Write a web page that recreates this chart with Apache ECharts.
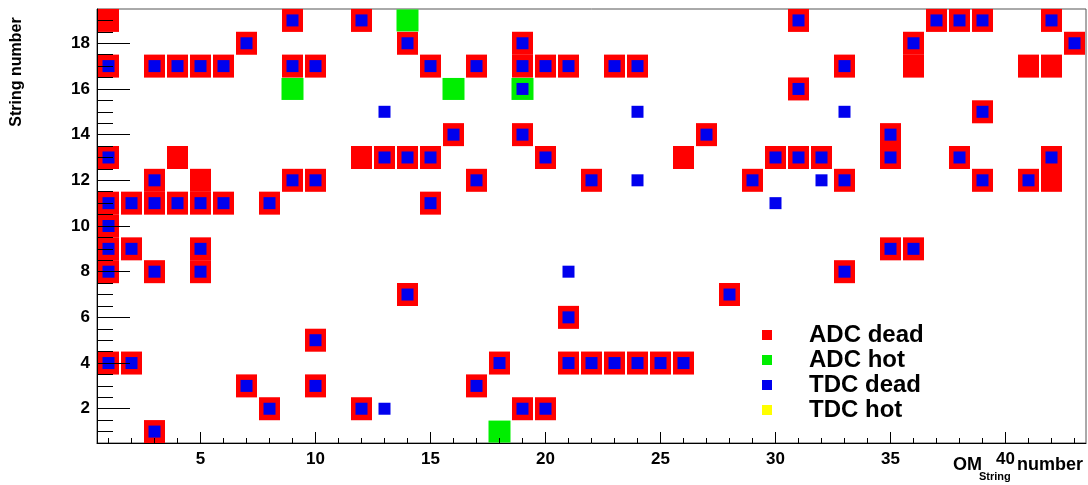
<!DOCTYPE html>
<html><head><meta charset="utf-8">
<script src="https://cdn.jsdelivr.net/npm/echarts@6/dist/echarts.min.js"></script>
<style>html,body{margin:0;padding:0;background:#fff}#c{width:1088px;height:485px}</style>
</head><body><div id="c"></div>
<script>
// ---- data: [OM number, String number] ----
const seriesNames = ['ADC dead', 'ADC hot', 'TDC dead', 'TDC hot'];
const adcDead = [
  [1,19],[9,19],[12,19],[31,19],[37,19],[38,19],[39,19],[42,19],
  [7,18],[14,18],[19,18],[36,18],[43,18],
  [1,17],[3,17],[4,17],[5,17],[6,17],[9,17],[10,17],[15,17],[17,17],[19,17],[20,17],[21,17],[23,17],[24,17],[33,17],[36,17],[41,17],[42,17],
  [31,16],
  [39,15],
  [16,14],[19,14],[27,14],[35,14],
  [1,13],[4,13],[12,13],[13,13],[14,13],[15,13],[20,13],[26,13],[30,13],[31,13],[32,13],[35,13],[38,13],[42,13],
  [3,12],[5,12],[9,12],[10,12],[17,12],[22,12],[29,12],[33,12],[39,12],[41,12],[42,12],
  [1,11],[2,11],[3,11],[4,11],[5,11],[6,11],[8,11],[15,11],
  [1,10],
  [1,9],[2,9],[5,9],[35,9],[36,9],
  [1,8],[3,8],[5,8],[33,8],
  [14,7],[28,7],
  [21,6],
  [10,5],
  [1,4],[2,4],[18,4],[21,4],[22,4],[23,4],[24,4],[25,4],[26,4],
  [7,3],[10,3],[17,3],
  [8,2],[12,2],[19,2],[20,2],
  [3,1]
];
const adcHot = [[14,19],[9,16],[16,16],[19,16],[18,1]];
const tdcDead = [
  [9,19],[12,19],[31,19],[37,19],[38,19],[39,19],[42,19],
  [7,18],[14,18],[19,18],[36,18],[43,18],
  [1,17],[3,17],[4,17],[5,17],[6,17],[9,17],[10,17],[15,17],[17,17],[19,17],[20,17],[21,17],[23,17],[24,17],[33,17],
  [19,16],[31,16],
  [13,15],[24,15],[33,15],[39,15],
  [16,14],[19,14],[27,14],[35,14],
  [1,13],[13,13],[14,13],[15,13],[20,13],[30,13],[31,13],[32,13],[35,13],[38,13],[42,13],
  [3,12],[9,12],[10,12],[17,12],[22,12],[24,12],[29,12],[32,12],[33,12],[39,12],[41,12],
  [1,11],[2,11],[3,11],[4,11],[5,11],[6,11],[8,11],[15,11],[30,11],
  [1,10],
  [1,9],[2,9],[5,9],[35,9],[36,9],
  [1,8],[3,8],[5,8],[21,8],[33,8],
  [14,7],[28,7],
  [21,6],
  [10,5],
  [1,4],[2,4],[18,4],[21,4],[22,4],[23,4],[24,4],[25,4],[26,4],
  [7,3],[10,3],[17,3],
  [8,2],[12,2],[13,2],[19,2],[20,2],
  [3,1]
];
const tdcHot = [];
const xMajorTicks = [5,10,15,20,25,30,35,40];
const xMinorTicks = [1,2,3,4,6,7,8,9,11,12,13,14,16,17,18,19,21,22,23,24,26,27,28,29,31,32,33,34,36,37,38,39,41,42,43];
const yMajorTicks = [2,4,6,8,10,12,14,16,18];
const yMinorTicks = [1,1.5,2.5,3,3.5,4.5,5,5.5,6.5,7,7.5,8.5,9,9.5,10.5,11,11.5,12.5,13,13.5,14.5,15,15.5,16.5,17,17.5,18.5,19];
const xTitle = ['OM', 'String', 'number'];
const yTitle = 'String number';

// ---- chart ----
const FONT = 'Liberation Sans, Arial, sans-serif';
const chart = echarts.init(document.getElementById('c'), null, {renderer: 'canvas'});
const xRange = {min: 0.5, max: 43.5};
const yRange = {min: 0.5, max: 19.5};
const labelStyle = {fontSize: 17, fontWeight: 'bold', color: '#000', fontFamily: FONT};
function scatter(name, data, size, color, z) {
  return {name, type: 'scatter', data, symbol: 'rect', symbolSize: size, z,
    itemStyle: {color, opacity: 1}, emphasis: {disabled: true}, silent: true,
    xAxisIndex: 0, yAxisIndex: 0};
}
chart.setOption({
  animation: false,
  backgroundColor: '#fff',
  grid: {left: 97, top: 9, width: 989, height: 434, show: true, borderColor: '#555', borderWidth: 1, backgroundColor: 'transparent'},
  xAxis: [
    {type: 'value', ...xRange, position: 'bottom', z: 5,
      axisLine: {show: true, onZero: false, lineStyle: {color: '#000', width: 1}},
      axisTick: {show: true, inside: true, length: 11, customValues: xMajorTicks, lineStyle: {color: '#000'}},
      axisLabel: {customValues: xMajorTicks, margin: 8, ...labelStyle},
      splitLine: {show: false}},
    {type: 'value', ...xRange, position: 'bottom', z: 5,
      axisLine: {show: false, onZero: false},
      axisTick: {show: true, inside: true, length: 5, customValues: xMinorTicks, lineStyle: {color: '#000'}},
      axisLabel: {show: false}, splitLine: {show: false}}
  ],
  yAxis: [
    {type: 'value', ...yRange, position: 'left', z: 5,
      axisLine: {show: true, onZero: false, lineStyle: {color: '#000', width: 1}},
      axisTick: {show: true, inside: true, length: 33, customValues: yMajorTicks, lineStyle: {color: '#000'}},
      axisLabel: {customValues: yMajorTicks, margin: 7, ...labelStyle},
      splitLine: {show: false}},
    {type: 'value', ...yRange, position: 'left', z: 5,
      axisLine: {show: false, onZero: false},
      axisTick: {show: true, inside: true, length: 16, customValues: yMinorTicks, lineStyle: {color: '#000'}},
      axisLabel: {show: false}, splitLine: {show: false}}
  ],
  legend: {
    orient: 'vertical', left: 757, top: 318, itemWidth: 10, itemHeight: 10, itemGap: 1,
    icon: 'rect', selectedMode: false, data: seriesNames,
    textStyle: {fontSize: 24, fontWeight: 'bold', color: '#000', fontFamily: FONT, lineHeight: 24, padding: [0, 0, 0, 32]}
  },
  graphic: [
    {type: 'text', x: 17, y: 72, rotation: Math.PI / 2,
      style: {text: yTitle, fontSize: 16, fontWeight: 'bold', fill: '#000', fontFamily: FONT, align: 'center', verticalAlign: 'middle'}},
    {type: 'text', x: 953, y: 465,
      style: {text: xTitle[0], fontSize: 18, fontWeight: 'bold', fill: '#000', fontFamily: FONT, align: 'left', verticalAlign: 'middle'}},
    {type: 'text', x: 979, y: 477,
      style: {text: xTitle[1], fontSize: 11, fontWeight: 'bold', fill: '#000', fontFamily: FONT, align: 'left', verticalAlign: 'middle'}},
    {type: 'text', x: 1083, y: 465,
      style: {text: xTitle[2], fontSize: 18, fontWeight: 'bold', fill: '#000', fontFamily: FONT, align: 'right', verticalAlign: 'middle'}}
  ],
  series: [
    scatter(seriesNames[0], adcDead, [21, 23], '#ff0000', 2),
    scatter(seriesNames[1], adcHot, [22, 22], '#00ee00', 2),
    scatter(seriesNames[2], tdcDead, [12, 12], '#0000ee', 3),
    scatter(seriesNames[3], tdcHot, [12, 12], '#ffff00', 3)
  ]
});
</script>
</body></html>
